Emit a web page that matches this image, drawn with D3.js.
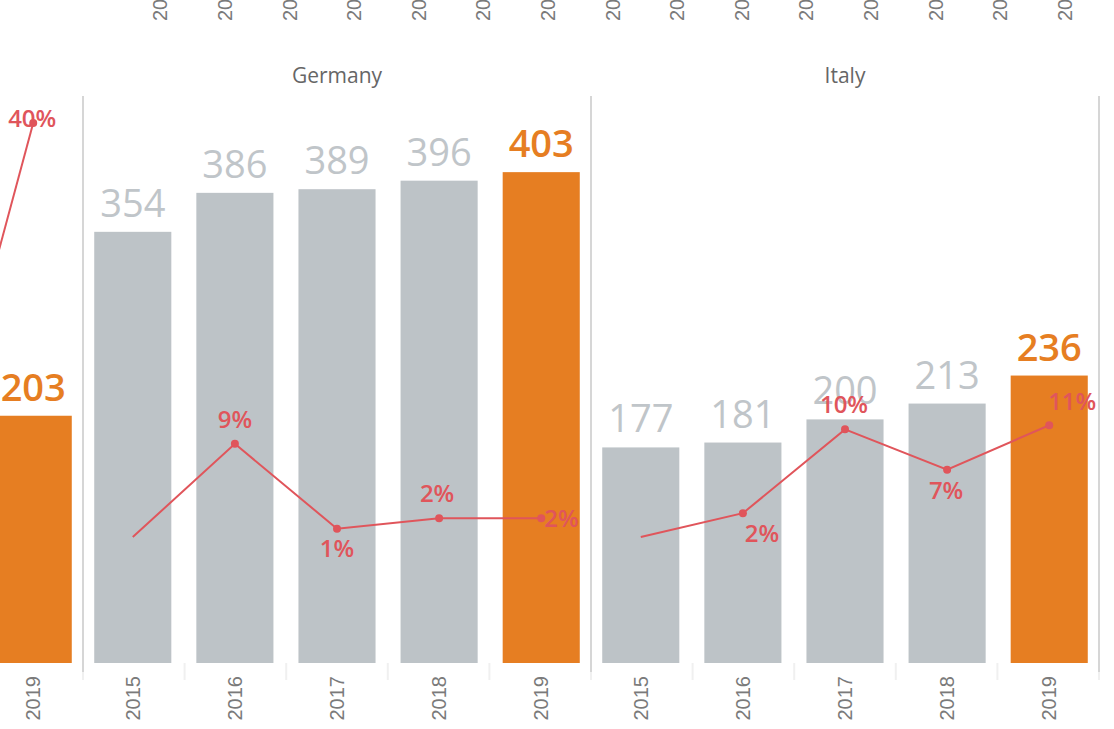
<!DOCTYPE html>
<html>
<head>
<meta charset="utf-8">
<script src="https://cdnjs.cloudflare.com/ajax/libs/d3/7.8.5/d3.min.js"></script>
<style>
  body { margin: 0; background: #fff; }
  svg { display: block; }
</style>
</head>
<body>
<div id="chart"></div>
<script>
var svgWidth = 1114;
var svgHeight = 729;

// data
var years = ["2015", "2016", "2017", "2018", "2019"];
var countries = ["", "Germany", "Italy"];
var leftValues = [null, null, null, 145, 203];
var germanyValues = [354, 386, 389, 396, 403];
var italyValues = [177, 181, 200, 213, 236];
var leftGrowth = [null, null, null, 3.4, 40];
var germanyGrowth = [0, 9.0, 0.8, 1.8, 1.8];
var italyGrowth = [0, 2.3, 10.4, 6.5, 10.8];
// tick labels of the row above (cut off at the top)
var topLabels = ["2015", "2016", "2017", "2018", "2019",
                 "2015", "2016", "2017", "2018", "2019",
                 "2015", "2016", "2017", "2018", "2019"];

var panels = [
  {name: countries[0], values: leftValues, growth: leftGrowth},
  {name: countries[1], values: germanyValues, growth: germanyGrowth},
  {name: countries[2], values: italyValues, growth: italyGrowth}
];

var grey = "#bdc3c7";
var orange = "#e67e22";
var red = "#e0555b";

var svg = d3.select("#chart")
  .append("svg")
  .attr("width", svgWidth)
  .attr("height", svgHeight);

// panel positions
var panelX = d3.scaleBand()
  .domain(d3.range(panels.length))
  .range([-425, 1099]);

var x = d3.scaleBand()
  .domain(years)
  .range([0, panelX.bandwidth()])
  .paddingInner(0.245)
  .paddingOuter(0.11);

var y = d3.scaleLinear()
  .domain([0, 400])
  .range([663, 175.8]);

var yGrowth = d3.scaleLinear()
  .domain([0, 40])
  .range([537, 123]);

// where each growth label sits relative to its point
var labelPlacement = {
  "0-2019": {dx: -1, dy: 4, anchor: "middle"},
  "1-2016": {dx: 0, dy: -16, anchor: "middle"},
  "1-2017": {dx: 0, dy: 28, anchor: "middle"},
  "1-2018": {dx: -2, dy: -16, anchor: "middle"},
  "1-2019": {dx: 3, dy: 9, anchor: "start"},
  "2-2016": {dx: 19, dy: 29, anchor: "middle"},
  "2-2017": {dx: -1, dy: -16, anchor: "middle"},
  "2-2018": {dx: -1, dy: 29, anchor: "middle"},
  "2-2019": {dx: 23, dy: -15, anchor: "middle"}
};

// top row labels
var xTop = d3.scaleBand()
  .domain(d3.range(topLabels.length))
  .range([128, 1097]);

svg.append("g").selectAll("text")
  .data(topLabels)
  .enter()
  .append("text")
  .attr("transform", (d, i) => "translate(" + (xTop(i) + xTop.bandwidth() / 2) + ",21) rotate(-90)")
  .attr("dy", "0.35em")
  .attr("text-anchor", "start")
  .attr("font-family", "'Liberation Sans', Arial, sans-serif")
  .attr("font-size", 20)
  .attr("fill", "#7a7a7a")
  .text(d => d);

panels.forEach(function(p, pi) {
  var g = svg.append("g")
    .attr("transform", "translate(" + panelX(pi) + ",0)");
  var w = panelX.bandwidth();

  // faint tick marks under the axis
  g.append("g").selectAll("line")
    .data(d3.range(1, years.length))
    .enter()
    .append("line")
    .attr("x1", d => d * w / years.length)
    .attr("x2", d => d * w / years.length)
    .attr("y1", 663)
    .attr("y2", 680)
    .attr("stroke", "#f0f0f0")
    .attr("stroke-width", 2);

  // panel border
  g.append("line")
    .attr("x1", w).attr("x2", w)
    .attr("y1", 96).attr("y2", 672)
    .attr("stroke", "#d6d6d6")
    .attr("stroke-width", 2);
  g.append("line")
    .attr("x1", w).attr("x2", w)
    .attr("y1", 672).attr("y2", 680)
    .attr("stroke", "#f0f0f0")
    .attr("stroke-width", 2);

  g.append("text")
    .attr("x", w / 2)
    .attr("y", 83)
    .attr("text-anchor", "middle")
    .attr("font-family", "'Open Sans', sans-serif")
    .attr("font-size", 21)
    .attr("fill", "#666")
    .text(p.name);

  var bars = years.map((yr, i) => ({year: yr, value: p.values[i], growth: p.growth[i]}));
  var shown = bars.filter(d => d.value != null);

  g.selectAll("rect")
    .data(shown)
    .enter()
    .append("rect")
    .attr("x", d => x(d.year))
    .attr("y", d => y(d.value))
    .attr("width", x.bandwidth())
    .attr("height", d => y(0) - y(d.value))
    .attr("fill", d => d.year == "2019" ? orange : grey);

  g.selectAll(".value")
    .data(shown)
    .enter()
    .append("text")
    .attr("class", "value")
    .attr("x", d => x(d.year) + x.bandwidth() / 2)
    .attr("y", d => y(d.value) - 15)
    .attr("text-anchor", "middle")
    .attr("font-family", "'Open Sans', sans-serif")
    .attr("font-size", 38)
    .attr("font-weight", d => d.year == "2019" ? 600 : 500)
    .attr("fill", d => d.year == "2019" ? orange : "#c0c5c9")
    .text(d => d.value);

  // growth line
  var pts = bars.filter(d => d.growth != null);
  var line = d3.line()
    .x(d => x(d.year) + x.bandwidth() / 2)
    .y(d => yGrowth(d.growth));

  g.append("path")
    .datum(pts)
    .attr("d", line)
    .attr("fill", "none")
    .attr("stroke", red)
    .attr("stroke-width", 2);

  var marked = pts.filter(d => d.year != "2015");

  g.selectAll(".dot")
    .data(marked)
    .enter()
    .append("circle")
    .attr("class", "dot")
    .attr("cx", d => x(d.year) + x.bandwidth() / 2)
    .attr("cy", d => yGrowth(d.growth))
    .attr("r", 4)
    .attr("fill", red);

  g.selectAll(".pct")
    .data(marked.filter(d => labelPlacement[pi + "-" + d.year]))
    .enter()
    .append("text")
    .attr("class", "pct")
    .attr("x", d => x(d.year) + x.bandwidth() / 2 + labelPlacement[pi + "-" + d.year].dx)
    .attr("y", d => yGrowth(d.growth) + labelPlacement[pi + "-" + d.year].dy)
    .attr("text-anchor", d => labelPlacement[pi + "-" + d.year].anchor)
    .attr("font-family", "'Open Sans', sans-serif")
    .attr("font-size", 24)
    .attr("font-weight", 600)
    .attr("fill", red)
    .text(d => Math.round(d.growth) + "%");

  // year labels
  g.selectAll(".year")
    .data(years)
    .enter()
    .append("text")
    .attr("class", "year")
    .attr("transform", d => "translate(" + (x(d) + x.bandwidth() / 2) + ",676) rotate(-90)")
    .attr("dy", "0.35em")
    .attr("text-anchor", "end")
    .attr("font-family", "'Liberation Sans', Arial, sans-serif")
    .attr("font-size", 20)
    .attr("fill", "#7a7a7a")
    .text(d => d);
});
</script>
</body>
</html>
